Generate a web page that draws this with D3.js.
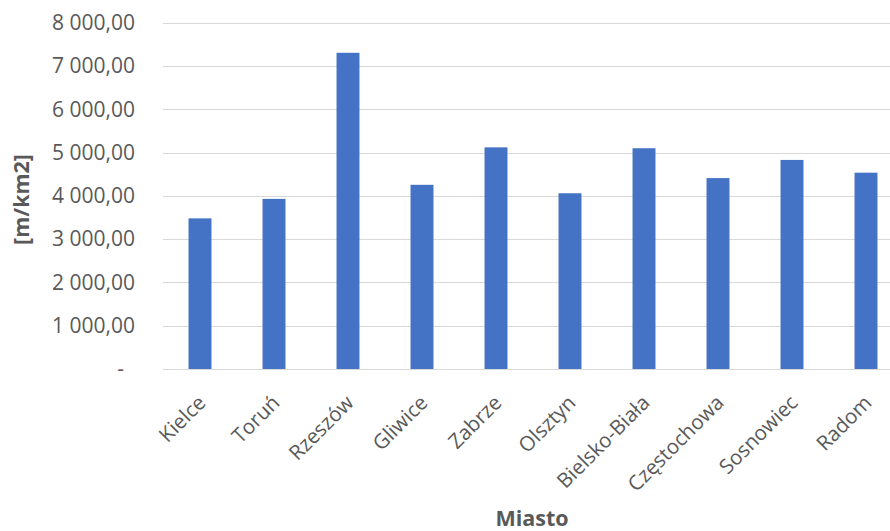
<!DOCTYPE html>
<html><head><meta charset="utf-8">
<script src="https://cdn.jsdelivr.net/npm/d3@7"></script>
<style>body{margin:0;background:#fff}svg{display:block}</style>
</head><body>
<svg id="c" width="890" height="531"></svg>
<script>
const categories = ["Kielce","Toruń","Rzeszów","Gliwice","Zabrze","Olsztyn","Bielsko-Biała","Częstochowa","Sosnowiec","Radom"];
const values = [3480,3930,7305,4255,5120,4060,5100,4410,4830,4535];
const yTicks = [0,1000,2000,3000,4000,5000,6000,7000,8000];
const yTitle = "[m/km2]";
const xTitle = "Miasto";

(function(){
const svg = d3.select("#c");
const mLeft = 163, mRight = 903, mTop = 22.7, mBottom = 369;
const font = "'Open Sans', sans-serif";

const x = d3.scaleBand().domain(categories).range([mLeft, mRight]).paddingInner(0.69).paddingOuter(0.345);
const y = d3.scaleLinear().domain([0, 8000]).range([mBottom, mTop]);

const fmt = v => v === 0 ? "-" : d3.format(",.2f")(v).replace(/,/g, " ").replace(".", ",");

svg.append("g").selectAll("line").data(yTicks).join("line")
  .attr("x1", mLeft).attr("x2", mRight)
  .attr("y1", d => Math.round(y(d)) + 0.5).attr("y2", d => Math.round(y(d)) + 0.5)
  .attr("stroke", "#d9d9d9").attr("stroke-width", 1);

const yAxis = d3.axisLeft(y).tickValues(yTicks).tickFormat(fmt).tickSize(0).tickPadding(0);
const gy = svg.append("g").attr("transform", `translate(135,0)`).call(yAxis);
gy.select(".domain").remove();
gy.selectAll("text").attr("font-family", font).attr("font-size", 21).attr("fill", "#595959")
  .attr("dx", d => d === 0 ? -11 : 0);

svg.append("g").selectAll("rect").data(values).join("rect")
  .attr("x", (d, i) => x(categories[i]))
  .attr("width", x.bandwidth())
  .attr("y", d => y(d))
  .attr("height", d => y(0) - y(d))
  .attr("fill", "#4472C4");

const xAxis = d3.axisBottom(x).tickSize(0).tickPadding(0);
const gx = svg.append("g").attr("transform", `translate(0,${mBottom})`).call(xAxis);
gx.select(".domain").remove();
gx.selectAll("text")
  .attr("font-family", font).attr("font-size", 20.5).attr("fill", "#595959")
  .attr("text-anchor", "end")
  .attr("dy", null).attr("y", 0)
  .attr("transform", "translate(7,35) rotate(-45)");

svg.append("text").attr("x", 532).attr("y", 526)
  .attr("text-anchor", "middle").attr("font-family", font).attr("font-size", 21.5)
  .attr("font-weight", "bold").attr("fill", "#595959").text(xTitle);
svg.append("text").attr("transform", `translate(29,199.5) rotate(-90)`)
  .attr("text-anchor", "middle").attr("font-family", font).attr("font-size", 21.5)
  .attr("font-weight", "bold").attr("fill", "#595959").text(yTitle);
})();
</script>
</body></html>
